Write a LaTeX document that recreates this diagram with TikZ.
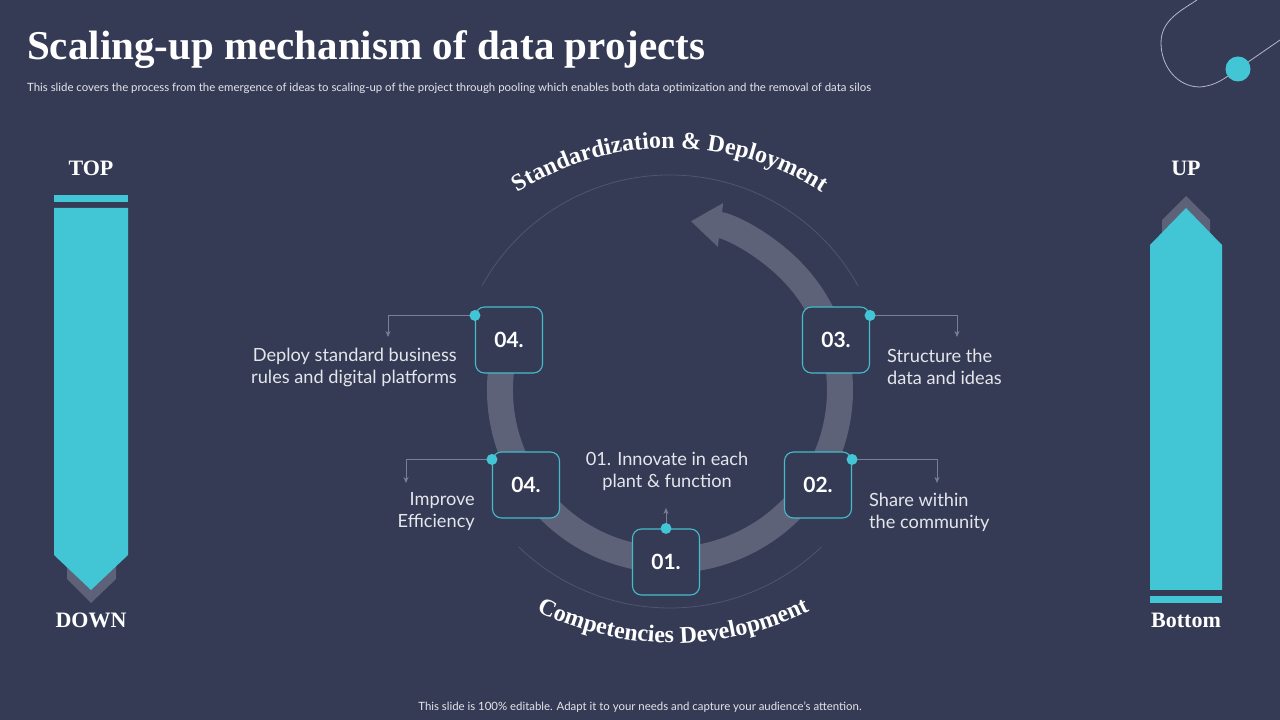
\documentclass[tikz,border=0pt]{standalone}
\usepackage{fontspec}
\setmainfont{Lato}
\newfontfamily\headfont{Liberation Serif}
\usetikzlibrary{arrows.meta,calc,decorations.text}
\definecolor{bgnavy}{HTML}{363B55}
\definecolor{barcyan}{HTML}{42C6D6}
\definecolor{ringgrey}{HTML}{5D6279}
\definecolor{thinarc}{HTML}{50556F}
\definecolor{connline}{HTML}{7A7F97}
\definecolor{boxline}{HTML}{45BCCB}
\definecolor{textlight}{HTML}{E4E6EC}
\definecolor{swoosh}{HTML}{B5B8C8}
\tikzset{
numbox/.style={draw=boxline,line width=1.1pt,fill=bgnavy,rounded corners=9pt,minimum width=67pt,minimum height=66pt,inner sep=0pt,text=white,font=\bfseries\fontsize{21}{21}\selectfont},
stepdot/.style={fill=barcyan},
conn/.style={draw=connline,line width=0.8pt,-{Stealth[length=6pt,width=5pt]}},
steptext/.style={text=textlight,inner sep=0pt,font=\fontsize{18.2}{22}\selectfont},
sidelabel/.style={text=white,inner sep=0pt,font=\headfont\bfseries\fontsize{22}{22}\selectfont},
smalltext/.style={text=textlight,inner sep=0pt,font=\fontsize{11.4}{13}\selectfont}
}
\begin{document}
\begin{tikzpicture}[x=1pt,y=1pt]
\fill[bgnavy] (0,0) rectangle (1280,720);
\useasboundingbox (0,0) rectangle (1280,720);
\node[anchor=base west,inner sep=0pt,text=white,font=\headfont\bfseries\fontsize{41}{41}\selectfont] (title) at (27,660) {Scaling-up mechanism of data projects};
\node[smalltext,anchor=base west] (subtitle) at (27,628) {This slide covers the process from the emergence of ideas to scaling-up of the project through pooling which enables both data optimization and the removal of data silos};
\node[smalltext,anchor=base] (footer) at (640,9) {This slide is 100\% editable. Adapt it to your needs and capture your audience's attention.};
\draw[swoosh,line width=0.8pt] (1197,720) to[out=213,in=90] (1161,677) to[out=270,in=180] (1200,633) to[out=5,in=215] (1238,651) -- (1280,680);
\fill[barcyan] (1238,651) circle (12.5);
\fill[barcyan] (54,518) rectangle (128,525);
\fill[ringgrey] (67,175) -- (116,175) -- (116,141) -- (91,117) -- (67,141) -- cycle;
\fill[barcyan] (54,512) -- (128,512) -- (128,165) -- (91,130) -- (54,165) -- cycle;
\node[sidelabel] (top) at (91,552) {TOP};
\node[sidelabel] (down) at (91,100) {DOWN};
\fill[ringgrey] (1162,400) -- (1162,500) -- (1186,524) -- (1210,500) -- (1210,400) -- cycle;
\fill[barcyan] (1150,130) -- (1150,475) -- (1186,512) -- (1222,475) -- (1222,130) -- cycle;
\fill[barcyan] (1150,117) rectangle (1222,124);
\node[sidelabel] (up) at (1186,552) {UP};
\node[sidelabel] (bottom) at (1186,100) {Bottom};
\draw[thinarc,line width=0.8pt] (670,330) ++(29:215) arc[start angle=29,end angle=151,radius=215];
\draw[thinarc,line width=0.8pt] (670,330) ++(226:218) arc[start angle=226,end angle=314,radius=218];
\draw[ringgrey,line width=26pt,-{Triangle[width=42pt,length=30pt]}] (670,330) ++(163:170) arc[start angle=163,end angle=443,radius=170];
\path[decorate,decoration={text along path,text align=center,text color=white,text={|\headfont\bfseries\fontsize{24}{24}\selectfont|Standardization {\&} Deployment}}] (670,290) ++(122:282) arc[start angle=122,end angle=58,radius=282];
\path[decorate,decoration={text along path,text align=center,text color=white,text={|\headfont\bfseries\fontsize{24}{24}\selectfont|Competencies Development}}] (673,384) ++(235:307) arc[start angle=235,end angle=305,radius=307];
\node[numbox] (b4a) at (509,380) {04.};
\node[numbox] (b3) at (836,380) {03.};
\node[numbox] (b4b) at (526,235) {04.};
\node[numbox] (b2) at (818,235) {02.};
\node[numbox] (b1) at (666,158) {01.};
\coordinate (d4a) at ($(b4a.north west)+(0,-9)$);
\coordinate (d3) at ($(b3.north east)+(0,-9)$);
\coordinate (d4b) at ($(b4b.north west)+(0,-8)$);
\coordinate (d2) at ($(b2.north east)+(0,-8)$);
\coordinate (d1) at (b1.north);
\coordinate (t4a) at (388,383);
\coordinate (t3) at (957,383);
\coordinate (t4b) at (406,237);
\coordinate (t2) at (937,237);
\coordinate (t1) at (666,212);
\draw[conn] (d4a) -| (t4a);
\draw[conn] (d3) -| (t3);
\draw[conn] (d4b) -| (t4b);
\draw[conn] (d2) -| (t2);
\draw[conn] (d1) -- (t1);
\foreach \d in {d4a,d3,d4b,d2,d1} \fill[stepdot] (\d) circle (5.5);
\node[steptext,anchor=east,align=right] (txt4a) at (457,353) {Deploy standard business\\rules and digital platforms};
\node[steptext,anchor=west,align=left] (txt3) at (887,353) {Structure the\\data and ideas};
\node[steptext,anchor=east,align=right] (txt4b) at (475,208) {Improve\\Efficiency};
\node[steptext,anchor=west,align=left] (txt2) at (869,208) {Share within\\the community};
\node[steptext,align=center] (txt1) at (667,249) {01. Innovate in each\\plant \& function};
\end{tikzpicture}
\end{document}
